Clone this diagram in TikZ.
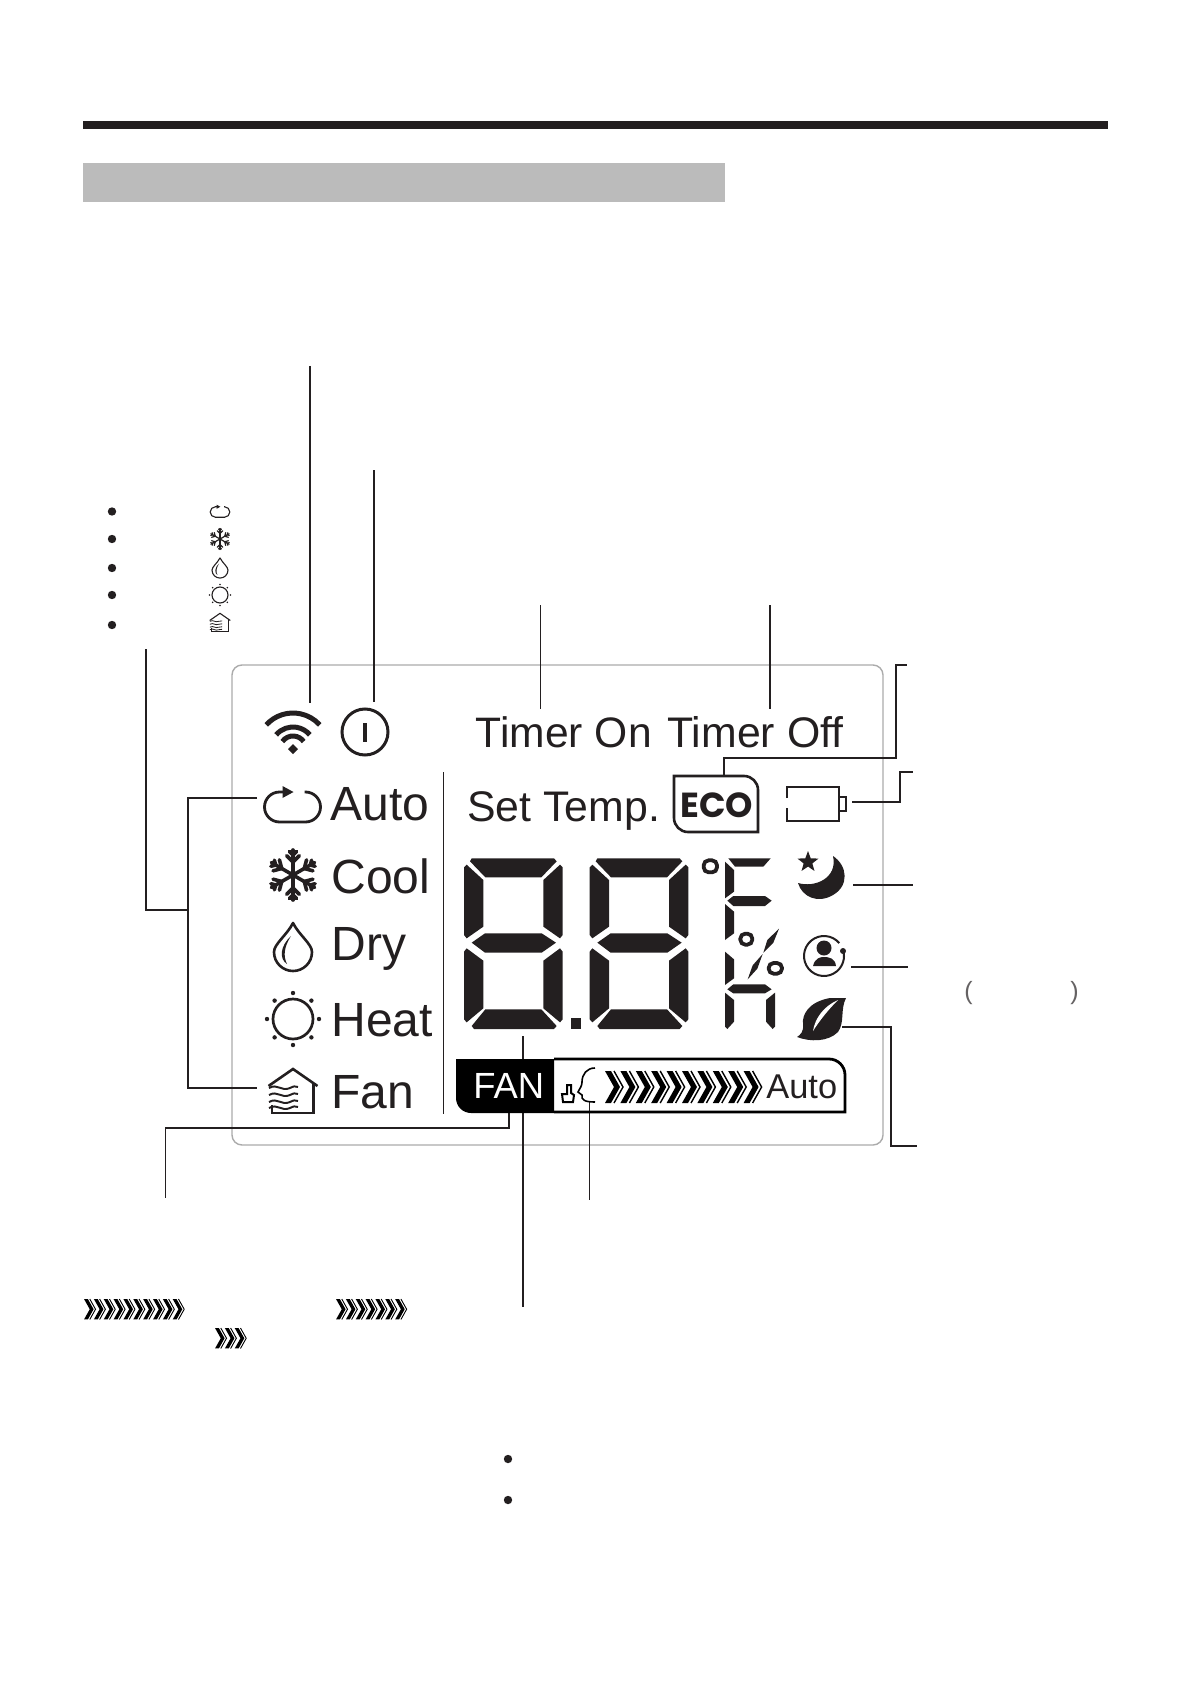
\documentclass[tikz,border=0pt]{standalone}
\usepackage{fontspec}
\setmainfont{Liberation Sans}
\newfontfamily\ecofont{Poppins}
\usetikzlibrary{shapes.geometric}
\definecolor{ink}{HTML}{231F20}
\definecolor{band}{HTML}{BBBBBB}
\definecolor{panelline}{HTML}{ABABAB}
\tikzset{
  conn/.style={draw=ink,line width=.6pt},
  connthick/.style={draw=ink,line width=.85pt},
  lbl/.style={anchor=base west,inner sep=0pt,text=ink},
  seg/.style={fill=ink,draw=none},
  bullet/.style={circle,fill=ink,inner sep=0pt,minimum size=4.2pt},
}
\newcommand{\fpx}[1]{\fontsize{#1}{#1}\selectfont}
% icons, drawn round their centre, #1 x, #2 y, #3 scale, #4 line width
\newcommand{\iconauto}[4]{\begin{scope}[shift={(#1,#2)},scale=#3,line width=#4,draw=ink,line cap=butt]
  \draw (-9,-15) -- (-13,-15) arc[start angle=-90,end angle=-270,radius=15] -- (13,15) arc[start angle=90,end angle=-90,radius=15] -- (12,-15) ;
  \fill[ink] (-10,-21) -- (1,-15) -- (-10,-9) -- cycle;
\end{scope}}
\newcommand{\iconcool}[4]{\begin{scope}[shift={(#1,#2)},scale=#3,line width=#4,draw=ink,line cap=round]
  \foreach \a in {90,150,210,270,330,30}{
    \draw (0,0) -- (\a:25);
    \draw ([shift={(\a:13)}]0,0) -- ([shift={(\a:13)}]\a+45:9);
    \draw ([shift={(\a:13)}]0,0) -- ([shift={(\a:13)}]\a-45:9);
    \draw ([shift={(\a:20)}]0,0) -- ([shift={(\a:20)}]\a+45:5);
    \draw ([shift={(\a:20)}]0,0) -- ([shift={(\a:20)}]\a-45:5);
  }
\end{scope}}
\newcommand{\icondry}[4]{\begin{scope}[shift={(#1,#2)},scale=#3,line width=#4,draw=ink]
  \draw[line join=round] (0,-24) .. controls (-6,-12) and (-19,-3) .. (-19,5) .. controls (-19,16) and (-10,24) .. (0,24) .. controls (10,24) and (19,16) .. (19,5) .. controls (19,-3) and (6,-12) .. cycle;
  \fill[ink] (-2,-11) .. controls (-13,-1) and (-14,12) .. (-6,17) .. controls (-10,9) and (-9,0) .. cycle;
\end{scope}}
\newcommand{\iconheat}[4]{\begin{scope}[shift={(#1,#2)},scale=#3,line width=#4,draw=ink]
  \draw (0,0) circle (20);
  \foreach \a in {0,45,...,315}{\fill[ink] (\a:26) circle (2.2);}
\end{scope}}
\newcommand{\iconfan}[4]{\begin{scope}[shift={(#1,#2)},scale=#3,line width=#4,draw=ink]
  \draw[line join=miter] (-24.5,-6) -- (0,-23) -- (24.5,-6);
  \draw (20.5,-9) -- (20.5,21) -- (-21,21) -- (-21,13);
  \foreach \d in {-4,3,10,16}{
    \draw[line width=.75*#4] (-24,\d) .. controls (-15,\d-5) and (-12,\d+4) .. (-3,\d) .. controls (1,\d-2) and (2,\d-2) .. (5,\d-1);
  }
\end{scope}}
% run of chevrons: #1 x, #2 y (top left), #3 number, #4 scale, #5 thin line width
\newcommand{\chevrons}[5]{\begin{scope}[shift={(#1,#2)},scale=#4]
  \foreach \k in {1,...,#3}{
    \begin{scope}[shift={({(\k-1)*15.4},0)}]
      \fill[black] (0,0) -- (6,0) -- (15,16) -- (6,32) -- (0,32) -- (9,16) -- cycle;
      \draw[black,line width=#5] (9,0) -- (18,16) -- (9,32);
    \end{scope}}
\end{scope}}
% seven segment digit, in a 3x grid with its own origin
\newcommand{\sevenseg}[1]{\begin{scope}[shift={(#1,770)},scale=1/3]
  \fill[seg] (65,265)--(312,265)--(320,274)--(274,322)--(106,322)--(60,274)--cycle;
  \fill[seg] (42,292)--(50,284)--(100,330)--(100,470)--(50,505)--(42,495)--cycle;
  \fill[seg] (338,292)--(330,284)--(280,330)--(280,470)--(330,505)--(338,495)--cycle;
  \fill[seg] (65,518)--(105,490)--(275,490)--(318,518)--(275,548)--(105,548)--cycle;
  \fill[seg] (42,545)--(50,535)--(100,572)--(100,715)--(50,757)--(42,748)--cycle;
  \fill[seg] (338,545)--(330,535)--(280,572)--(280,715)--(330,757)--(338,748)--cycle;
  \fill[seg] (65,768)--(106,718)--(274,718)--(320,768)--(312,777)--(72,777)--cycle;
\end{scope}}
\begin{document}
\begin{tikzpicture}[x=.5pt,y=-.5pt]
\useasboundingbox (0,0) rectangle (1191,1684);
% header
\fill[ink] (83,121) rectangle (1108,129);
\fill[band] (83,163) rectangle (725,202);
% panel
\draw[panelline,line width=.7pt,rounded corners=5pt] (232,665) rectangle (883,1145);
% anchor points of the connectors
\coordinate (wifiT) at (310,366); \coordinate (wifiB) at (310,703);
\coordinate (powT) at (374,470); \coordinate (powB) at (374,702);
\coordinate (tonT) at (540.5,605); \coordinate (tonB) at (540.5,709);
\coordinate (toffT) at (770,605); \coordinate (toffB) at (770,709);
\coordinate (ecoA) at (724,775); \coordinate (ecoB) at (724,758); \coordinate (ecoC) at (896,758); \coordinate (ecoD) at (896,665); \coordinate (ecoE) at (907,665);
\coordinate (batA) at (852,802); \coordinate (batB) at (900,802); \coordinate (batC) at (900,772); \coordinate (batD) at (913,772);
\coordinate (moonA) at (853,885); \coordinate (moonB) at (913,885);
\coordinate (persA) at (851,967); \coordinate (persB) at (908,967);
\coordinate (leafA) at (842,1027); \coordinate (leafB) at (891,1027); \coordinate (leafC) at (891,1146); \coordinate (leafD) at (917,1146);
\coordinate (modeT) at (146,649); \coordinate (modeM) at (146,910); \coordinate (modeJ) at (188,910);
\coordinate (modeA0) at (188,798); \coordinate (modeA1) at (257,798);
\coordinate (modeF0) at (188,1088); \coordinate (modeF1) at (257,1088);
\coordinate (fanA) at (509,1108); \coordinate (fanB) at (509,1128); \coordinate (fanC) at (165.5,1128); \coordinate (fanD) at (165.5,1198);
\coordinate (digA) at (523,1036); \coordinate (digB) at (523,1307);
\coordinate (faceA) at (589.5,1102); \coordinate (faceB) at (589.5,1200);
\draw[connthick] (wifiT) -- (wifiB);
\draw[connthick] (powT) -- (powB);
\draw[conn] (tonT) -- (tonB);
\draw[connthick] (toffT) -- (toffB);
\draw[conn] (ecoA) -- (ecoB) -- (ecoC) -- (ecoD) -- (ecoE);
\draw[conn] (batA) -- (batB) -- (batC) -- (batD);
\draw[connthick] (moonA) -- (moonB);
\draw[conn] (persA) -- (persB);
\draw[conn] (leafA) -- (leafB) -- (leafC) -- (leafD);
\draw[conn] (modeT) -- (modeM) -- (modeJ);
\draw[conn] (modeA1) -- (modeA0) -- (modeF0) -- (modeF1);
\draw[conn] (digA) -- (digB);
\draw[conn] (faceA) -- (faceB);
\draw[conn] (fanA) -- (fanB) -- (fanC) -- (fanD);
% wifi
\begin{scope}[ink,line width=2.5pt]
  \draw (293,749) ++(222:36) arc[start angle=222,end angle=318,radius=36];
  \draw (293,749) ++(220:22) arc[start angle=220,end angle=320,radius=22];
  \draw (293,749) ++(215:13) arc[start angle=215,end angle=325,radius=13];
  \fill (293,744) -- (298,749) -- (293,754) -- (288,749) -- cycle;
\end{scope}
% power
\draw[ink,line width=1.5pt] (365,732) circle (23);
\draw[ink,line width=2pt] (365,723) -- (365,742);
% mode icons
\iconauto{292.5}{807}{1}{1.4pt}
\iconcool{293}{875}{1}{1.8pt}
\icondry{293}{947}{1}{1.3pt}
\iconheat{293}{1019}{1}{1.35pt}
\iconfan{293}{1092}{1}{1.3pt}
% texts
\node[lbl,font=\fpx{21.3}] (ton) at (475.5,747) {Timer On};
\node[lbl,font=\fpx{21.4}] (toff) at (667,747) {Timer Off};
\node[lbl,font=\fpx{21.4}] (stemp) at (467,821) {Set Temp.};
\node[lbl,font=\fpx{24}] (mauto) at (330,820.5) {Auto};
\node[lbl,font=\fpx{24}] (mcool) at (331,893) {Cool};
\node[lbl,font=\fpx{24}] (mdry) at (331,960) {Dry};
\node[lbl,font=\fpx{24}] (mheat) at (331,1036) {Heat};
\node[lbl,font=\fpx{24}] (mfan) at (331,1108) {Fan};
% divider
\coordinate (divT) at (443.5,772); \coordinate (divB) at (443.5,1114);
\draw[conn] (divT) -- (divB);
% ECO
\draw[ink,line width=1.3pt] (674,776) [rounded corners=7pt] -- (758,776) [sharp corners] -- (758,832) [rounded corners=7pt] -- (674,832) [sharp corners] -- cycle;
\node[lbl,font=\ecofont\bfseries\fpx{17.4}] (eco) at (680,817) {ECO};
% battery
\draw[ink,line width=1.2pt] (787,798) -- (787,787) -- (839,787) -- (839,821) -- (787,821) -- (787,808);
\draw[ink,line width=1.2pt] (839,797) -- (846,797) -- (846,811) -- (839,811);
% digits
\sevenseg{450}
\sevenseg{575.67}
\fill[ink] (571,1018) rectangle (581,1029);
% small column, zoom grid
\begin{scope}[shift={(450,770)},scale=1/3]
  \draw[ink,line width=1.9pt,rounded corners=2.5pt] (761,271) rectangle (801,307);
  \fill[seg] (835,265)--(962,265)--(940,290)--(855,290)--cycle;
  \fill[seg] (825,275)--(852,300)--(852,365)--(825,385)--cycle;
  \fill[seg] (832,392)--(850,378)--(945,378)--(965,392)--(945,408)--(850,408)--cycle;
  \fill[seg] (825,402)--(852,425)--(852,490)--(825,510)--cycle;
  \fill[seg] (825,545)--(852,568)--(852,625)--(825,645)--cycle;
  \fill[seg] (832,658)--(850,643)--(945,643)--(965,658)--(945,670)--(850,670)--cycle;
  \fill[seg] (825,668)--(852,690)--(852,755)--(832,777)--(825,770)--cycle;
  \fill[seg] (975,668)--(948,690)--(948,755)--(968,777)--(975,770)--cycle;
  \draw[ink,line width=1.9pt,rounded corners=2.5pt] (871,491) rectangle (907,524);
  \draw[ink,line width=1.9pt,rounded corners=2.5pt] (956,579) rectangle (996,611);
  \fill[seg] (940,548)--(952,510)--(987,476)--(970,518)--cycle;
  \fill[seg] (893,628)--(908,586)--(938,552)--(922,596)--cycle;
\end{scope}
% moon, star
\fill[ink] (833,856) .. controls (848,866) and (849,886) .. (833,895) .. controls (818,904) and (802,897) .. (798,883) .. controls (815,888) and (838,878) .. (833,856) -- cycle;
\node[star,star points=5,star point ratio=2.4,fill=ink,inner sep=0pt,minimum size=11pt] (starm) at (808,862) {};
% person
\draw[ink,line width=1pt] (824,956) ++(-40:20) arc[start angle=-40,end angle=-376,radius=20];
\fill[ink] (843,951) circle (3);
\fill[ink] (824,948) circle (7.5);
\fill[ink] (813,966) .. controls (815,958) and (820,957) .. (824,957) .. controls (829,957) and (835,958) .. (836,966) -- cycle;
% leaf
\fill[ink] (846,998) -- (830,998) .. controls (808,1002) and (802,1015) .. (803,1024) .. controls (804,1032) and (800,1035) .. (797,1037) .. controls (810,1042) and (828,1042) .. (838,1032) .. controls (845,1022) and (840,1010) .. cycle;
\fill[white] (813,1031) .. controls (815,1018) and (824,1006) .. (838,1000) .. controls (828,1010) and (820,1020) .. cycle;
% fan bar
\fill[black] (456,1059) [sharp corners] -- (554,1059) -- (554,1113) [rounded corners=7.5pt] -- (456,1113) [sharp corners] -- cycle;
\draw[black,line width=1.4pt] (554,1059) [rounded corners=8pt] -- (845,1059) [sharp corners] -- (845,1112) -- (554,1112);
\node[lbl,text=white,font=\fpx{18.2}] (ffan) at (473,1098) {FAN};
\node[lbl,font=\fpx{17.2}] (fauto) at (766,1098) {Auto};
% face and hand
\draw[black,line width=.8pt] (595,1068) .. controls (587,1068) and (582,1074) .. (582,1082) .. controls (582,1086) and (580,1088) .. (578,1092) -- (582,1095) .. controls (581,1100) and (585,1102) .. (595,1102);
\draw[black,line width=1pt,fill=white] (562,1094) -- (567,1094) -- (567,1085) -- (571,1085) -- (571,1093) -- (574,1095) -- (573,1102) -- (563,1102) -- cycle;
\chevrons{605}{1071}{10}{1}{.7pt}
% legend
\node[bullet] (b1) at (112,511.5) {};
\node[bullet] (b2) at (112,539) {};
\node[bullet] (b3) at (112,568) {};
\node[bullet] (b4) at (112,595) {};
\node[bullet] (b5) at (112,625) {};
\iconauto{220}{512}{.35}{.55pt}
\iconcool{220}{539}{.42}{.6pt}
\icondry{220}{568}{.42}{.55pt}
\iconheat{220}{595}{.4}{.55pt}
\iconfan{220}{623}{.42}{.55pt}
% chevrons in the page text
\chevrons{84}{1299}{10}{.64}{.45pt}
\chevrons{336}{1299}{7}{.64}{.45pt}
\chevrons{215}{1328}{3}{.64}{.45pt}
% parentheses
\node[lbl,text=ink!70,font=\fpx{12.5}] (pl) at (964,999) {(};
\node[lbl,text=ink!70,font=\fpx{12.5}] (pr) at (1070,999) {)};
% lower bullets
\node[bullet] (b6) at (508,1459) {};
\node[bullet] (b7) at (508,1500) {};
\end{tikzpicture}
\end{document}
